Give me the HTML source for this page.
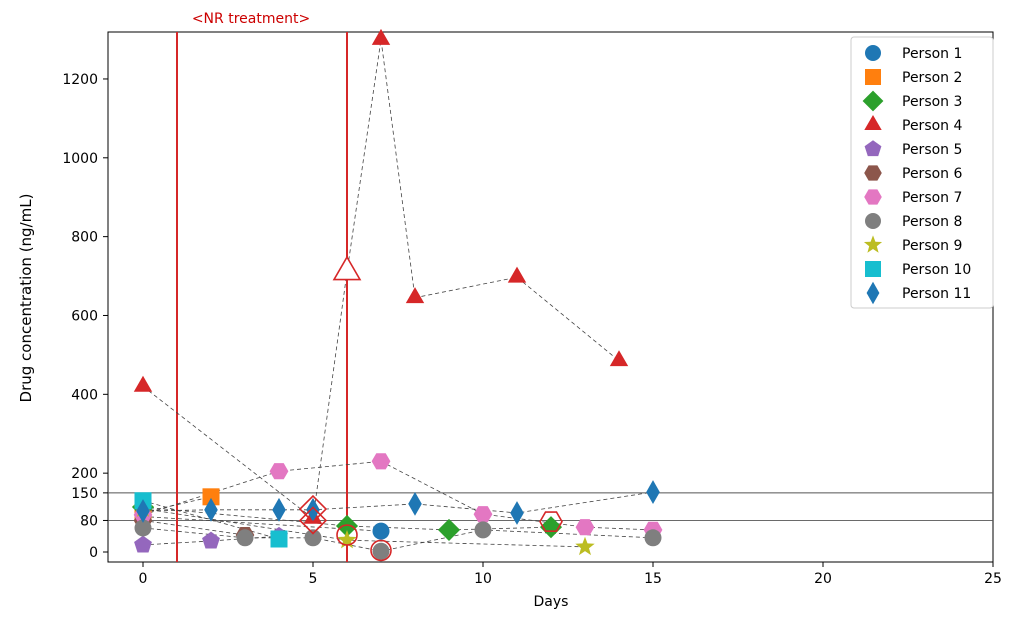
<!DOCTYPE html>
<html><head><meta charset="utf-8"><style>
body{margin:0;background:#fff;font-family:"Liberation Sans","DejaVu Sans",sans-serif}
svg text{font-family:"DejaVu Sans","Liberation Sans",sans-serif}
</style></head><body>
<svg id="c" width="1015" height="623" xmlns="http://www.w3.org/2000/svg"></svg>
<script>
const persons=["Person 1","Person 2","Person 3","Person 4","Person 5","Person 6","Person 7","Person 8","Person 9","Person 10","Person 11"];
const colors=["#1f77b4","#ff7f0e","#2ca02c","#d62728","#9467bd","#8c564b","#e377c2","#7f7f7f","#bcbd22","#17becf","#1f77b4"];
const shapes=["circle","square","diamond","triangle","pentagon","hexagon","hexagon","circle","star","square","thindiamond"];
const days=[[0,7],[0,2],[0,6,9,12],[0,5,6,7,8,11,14],[0,2,4],[0,3],[0,4,7,10,13,15],[0,3,5,7,10,15],[0,6,13],[0,4],[0,2,4,5,8,11,15]];
const values=[[90,53],[100,140],[114,66,56,63],[420,85,710,1300,645,697,485],[18,28,40],[80,43],[94,205,230,96,63,56],[61,36,36,2,56,36],[110,30,13],[130,33],[104,107,107,107,122,99,152]];
const hlShape=["diamond","diamond","triangle","circle","circle","hexagon"];
const hlDay=[5,5,6,6,7,12];
const hlVal=[109,80,710,43,4,77];
const yTicks=[0,80,150,200,400,600,800,1000,1200];
const xTicks=[0,5,10,15,20,25];
const treatment=[1,6];
const thresholds=[150,80];
const X=d=>143+d*34, Y=v=>552-v*0.3942;
const svg=document.getElementById('c');
const NS="http://www.w3.org/2000/svg";
function el(t,a,p){const e=document.createElementNS(NS,t);for(const k in a)e.setAttribute(k,a[k]);(p||svg).appendChild(e);return e;}
function shapePath(s,x,y,r){
  const poly=(n,rot,rr)=>{let p=[];for(let i=0;i<n;i++){const a=rot+i*2*Math.PI/n;p.push((x+rr*Math.cos(a)).toFixed(1)+','+(y+rr*Math.sin(a)).toFixed(1));}return p.join(' ');};
  if(s==="circle")return['circle',{cx:x,cy:y,r:r}];
  if(s==="square")return['rect',{x:x-r,y:y-r,width:2*r,height:2*r}];
  if(s==="diamond")return['polygon',{points:`${x},${y-r*1.3} ${x+r*1.3},${y} ${x},${y+r*1.3} ${x-r*1.3},${y}`}];
  if(s==="thindiamond")return['polygon',{points:`${x},${y-r*1.4} ${x+r*0.8},${y} ${x},${y+r*1.4} ${x-r*0.8},${y}`}];
  if(s==="triangle")return['polygon',{points:poly(3,-Math.PI/2,r*1.25)}];
  if(s==="pentagon")return['polygon',{points:poly(5,-Math.PI/2,r*1.1)}];
  if(s==="hexagon")return['polygon',{points:poly(6,0,r*1.1)}];
  if(s==="star"){let p=[];for(let i=0;i<10;i++){const a=-Math.PI/2+i*Math.PI/5,rr=i%2?r*0.5:r*1.2;p.push((x+rr*Math.cos(a)).toFixed(1)+','+(y+rr*Math.sin(a)).toFixed(1));}return['polygon',{points:p.join(' ')}];}
}
const frame=el('rect',{x:108,y:32,width:885,height:530,fill:'none',stroke:'#000','stroke-width':1});


thresholds.forEach(t=>{const l=el('line',{x1:108,x2:993,y1:Y(t),y2:Y(t),stroke:'#555','stroke-width':0.9});

});
treatment.forEach(d=>{const l=el('line',{x1:X(d),x2:X(d),y1:32,y2:562,stroke:'#d62728','stroke-width':2});

});
const tt=el('text',{x:251,y:23,'text-anchor':'middle',fill:'#c00','font-size':14});tt.textContent='<NR treatment>';


yTicks.forEach(v=>{el('line',{x1:103,x2:108,y1:Y(v),y2:Y(v),stroke:'#000'});const t=el('text',{x:98,y:Y(v)+5,'text-anchor':'end','font-size':14});t.textContent=v;

});
xTicks.forEach(v=>{el('line',{x1:X(v),x2:X(v),y1:562,y2:567,stroke:'#000'});const t=el('text',{x:X(v),y:583,'text-anchor':'middle','font-size':14});t.textContent=v;

});
const xt=el('text',{x:551,y:606,'text-anchor':'middle','font-size':14});xt.textContent='Days';


const yt=el('text',{x:31,y:298,'text-anchor':'middle','font-size':15,transform:'rotate(-90 31 298)'});yt.textContent='Drug concentration (ng/mL)';


persons.forEach((p,i)=>{const pts=days[i].map((d,j)=>X(d)+','+Y(values[i][j])).join(' ');
const l=el('polyline',{points:pts,fill:'none',stroke:'#444','stroke-width':0.8,'stroke-dasharray':'4,3'});

});
persons.forEach((p,i)=>{days[i].forEach((d,j)=>{
if(i===3&&d===6)return;
const [t,a]=shapePath(shapes[i],X(d),Y(values[i][j]),8.5);a.fill=colors[i];const m=el(t,a);

});});
hlDay.forEach((d,k)=>{const tri=hlShape[k]==='triangle';const [t,a]=shapePath(hlShape[k],X(d),Y(hlVal[k]),tri?12:10);a.fill=tri?'#fff':'none';a.stroke='#d62728';a['stroke-width']=1.6;const m=el(t,a);

});
const lg=el('g',{});


el('rect',{x:851,y:37,width:142,height:271,fill:'#fff',stroke:'#ccc',rx:3},lg);
persons.forEach((p,i)=>{const y=53+i*24;const [t,a]=shapePath(shapes[i],873,y,8);a.fill=colors[i];el(t,a,lg);
const tx=el('text',{x:902,y:y+5,'font-size':14},lg);tx.textContent=p;

});
</script>
</body></html>
